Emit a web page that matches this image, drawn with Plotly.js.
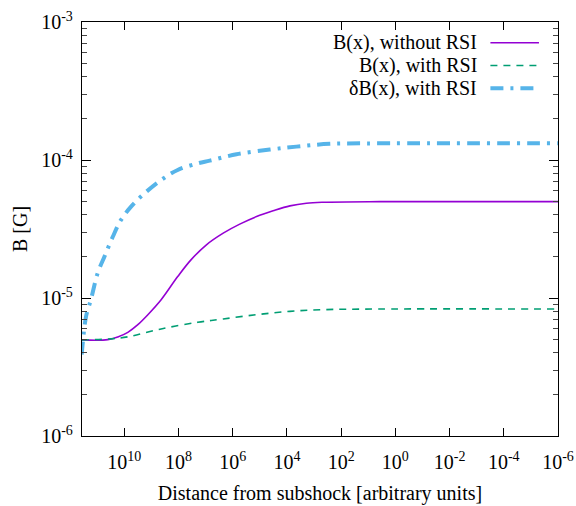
<!DOCTYPE html>
<html>
<head>
<meta charset="utf-8">
<script src="https://cdn.plot.ly/plotly-3.0.1.min.js"></script>
<style>html,body{margin:0;padding:0;background:#fff}#chart{width:576px;height:506px}</style>
</head>
<body>
<div id="chart"></div>
<script>
// B(x) without RSI
const xNoRSI = [3.72e11, 4.07e10, 1.74e10, 7.41e9, 3.16e9, 1.35e9, 4.37e8, 1.07e8, 3.47e7, 9.33e6, 2.24e6, 5.50e5, 1.32e5, 3.24e4, 7.76e3, 1.91e3, 457, 3.72, 1e-6];
const bNoRSI = [4.97e-6, 4.99e-6, 5.22e-6, 5.64e-6, 6.41e-6, 7.57e-6, 9.72e-6, 1.43e-5, 1.89e-5, 2.43e-5, 2.95e-5, 3.43e-5, 3.89e-5, 4.28e-5, 4.65e-5, 4.86e-5, 4.94e-5, 4.99e-5, 4.99e-5];
// B(x) with RSI
const xRSI = [3.72e11, 3.09e10, 7.41e9, 4.37e8, 1.95e7, 2.24e6, 1.32e5, 7.76e3, 457, 3.72, 1e-6];
const bRSI = [4.97e-6, 5.06e-6, 5.23e-6, 5.97e-6, 6.67e-6, 7.05e-6, 7.57e-6, 8.00e-6, 8.23e-6, 8.32e-6, 8.32e-6];
// deltaB(x) with RSI
const xDB = [3.72e11, 2.57e11, 1.70e11, 9.55e10, 5.37e10, 2.63e10, 1.32e10, 5.62e9, 1.78e9, 4.37e8, 1.07e8, 1.95e7, 7.08e6, 7.24e5, 4.27e4, 4.47e3, 263, 3.72, 1e-6];
const dB = [3.89e-6, 7.36e-6, 9.73e-6, 1.52e-5, 2.00e-5, 2.79e-5, 3.68e-5, 4.59e-5, 5.74e-5, 7.16e-5, 8.47e-5, 9.46e-5, 9.89e-5, 1.10e-4, 1.19e-4, 1.25e-4, 1.31e-4, 1.32e-4, 1.32e-4];

const seriesNames = ['B(x), without RSI', 'B(x), with RSI', '\u03b4B(x), with RSI'];
const colors = ['#9400d3', '#009e73', '#56b4e9'];

const xTickVals = [1e10, 1e8, 1e6, 1e4, 1e2, 1e0, 1e-2, 1e-4, 1e-6];
const xTickText = ['10<sup>10</sup>', '10<sup>8</sup>', '10<sup>6</sup>', '10<sup>4</sup>', '10<sup>2</sup>', '10<sup>0</sup>', '10<sup>-2</sup>', '10<sup>-4</sup>', '10<sup>-6</sup>'];
const yTickVals = [1e-6, 1e-5, 1e-4, 1e-3];
const yTickText = ['10<sup>-6</sup>', '10<sup>-5</sup>', '10<sup>-4</sup>', '10<sup>-3</sup>'];
const yMinor = [];
[1e-6, 1e-5, 1e-4].forEach(d => { for (let k = 2; k <= 9; k++) yMinor.push(k * d); });

const FONT = 'Liberation Serif, Times New Roman, serif';
const FS = 20;
const lineStyles = [
  {color: colors[0], width: 1.6, dash: 'solid'},
  {color: colors[1], width: 1.6, dash: '7px,6px'},
  {color: colors[2], width: 4, dash: '13px,7px,3px,7px'}
];

const traces = [
  {x: xNoRSI, y: bNoRSI, name: seriesNames[0], mode: 'lines', line: Object.assign({shape: 'spline', smoothing: 1}, lineStyles[0])},
  {x: xRSI, y: bRSI, name: seriesNames[1], mode: 'lines', line: Object.assign({shape: 'spline', smoothing: 1}, lineStyles[1])},
  {x: xDB, y: dB, name: seriesNames[2], mode: 'lines', line: Object.assign({shape: 'spline', smoothing: 1}, lineStyles[2])}
];

// custom legend (text left of sample, like gnuplot)
const legY = [0.95, 0.895, 0.84];
const annotations = [];
const shapes = [];
seriesNames.forEach((n, i) => {
  annotations.push({xref: 'paper', yref: 'paper', x: 0.835, y: legY[i], xanchor: 'right', yanchor: 'middle',
    text: n, showarrow: false, font: {family: FONT, size: FS, color: '#000'}});
  shapes.push({type: 'line', xref: 'paper', yref: 'paper', x0: 0.858, x1: 0.96, y0: legY[i], y1: legY[i],
    line: lineStyles[i]});
});

const layout = {
  width: 576, height: 506,
  margin: {l: 82, r: 18, t: 21.5, b: 69.5},
  paper_bgcolor: '#fff', plot_bgcolor: '#fff',
  showlegend: false,
  font: {family: FONT, size: FS, color: '#000'},
  xaxis: {
    type: 'log', autorange: false, range: [11.56, -6],
    tickmode: 'array', tickvals: xTickVals, ticktext: xTickText,
    ticks: 'inside', ticklen: 8, tickwidth: 1, tickcolor: '#000',
    ticklabelstandoff: 8,
    showline: true, linecolor: '#000', linewidth: 1.2, mirror: 'ticks',
    showgrid: false, zeroline: false,
    tickfont: {family: FONT, size: FS},
    title: {text: 'Distance from subshock [arbitrary units]', font: {family: FONT, size: FS}, standoff: 13}
  },
  yaxis: {
    type: 'log', autorange: false, range: [-6, -3],
    tickmode: 'array', tickvals: yTickVals, ticktext: yTickText,
    ticks: 'inside', ticklen: 9, tickwidth: 1, tickcolor: '#000',
    ticklabelstandoff: 4,
    minor: {tickmode: 'array', tickvals: yMinor, ticks: 'inside', ticklen: 5, tickwidth: 1, tickcolor: '#444'},
    showline: true, linecolor: '#000', linewidth: 1.2, mirror: 'ticks',
    showgrid: false, zeroline: false,
    tickfont: {family: FONT, size: FS},
    title: {text: 'B [G]', font: {family: FONT, size: FS}, standoff: 8}
  },
  annotations: annotations,
  shapes: shapes
};

Plotly.newPlot('chart', traces, layout, {displayModeBar: false, staticPlot: true});
</script>
</body>
</html>
